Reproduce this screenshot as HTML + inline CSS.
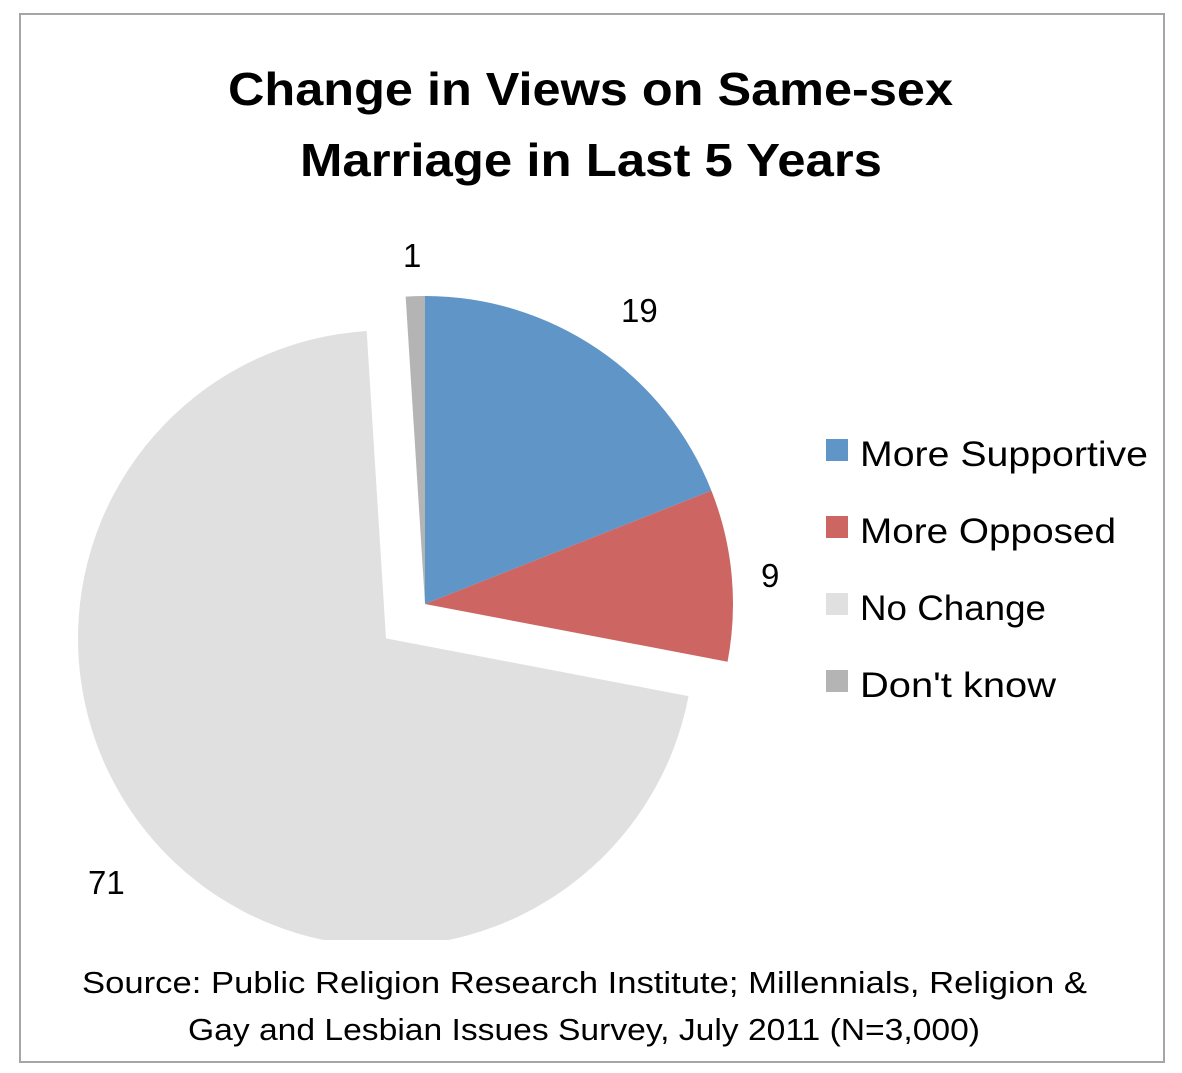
<!DOCTYPE html>
<html><head><meta charset="utf-8"><style>
body{margin:0;background:#fff;}
svg{display:block;font-family:"Liberation Sans",sans-serif;}
</style></head><body>
<svg id="chart" width="1182" height="1073" viewBox="0 0 1182 1073">
<rect x="20" y="14" width="1144" height="1048" fill="#fff" stroke="#a6a6a6" stroke-width="2"/>
<text x="228" y="105" textLength="725" lengthAdjust="spacingAndGlyphs" font-size="46" font-weight="bold">Change in Views on Same-sex</text>
<text x="300" y="176" textLength="582" lengthAdjust="spacingAndGlyphs" font-size="46" font-weight="bold">Marriage in Last 5 Years</text>
<defs><clipPath id="plotclip"><rect x="0" y="0" width="1182" height="940"/></clipPath></defs>
<g id="slices" clip-path="url(#plotclip)"></g>
<g id="labels"></g>
<g id="legend"></g>
<text x="82" y="993" textLength="1005" lengthAdjust="spacingAndGlyphs" font-size="31">Source: Public Religion Research Institute; Millennials, Religion &amp;</text>
<text x="188" y="1040" textLength="792" lengthAdjust="spacingAndGlyphs" font-size="31">Gay and Lesbian Issues Survey, July 2011 (N=3,000)</text>
</svg>
<script>
const categories = ["More Supportive", "More Opposed", "No Change", "Don't know"];
const values = [19, 9, 71, 1];
const colors = ["#6095c8", "#cd6562", "#e0e0e0", "#b4b4b4"];
const explode = [0, 0, 52, 0];
const labelPos = [[621,322],[761,587],[88,894],[403,267]];
const legendWidths = [288, 256, 186, 196];

const NS = "http://www.w3.org/2000/svg";
const cx = 425, cy = 604, r = 308;
const total = values.reduce((a,b)=>a+b,0);
const gS = document.getElementById('slices');
const gL = document.getElementById('labels');
const gLeg = document.getElementById('legend');
let acc = 0;
values.forEach((v,i)=>{
  const a0 = acc/total*2*Math.PI, a1 = (acc+v)/total*2*Math.PI;
  const am = (a0+a1)/2;
  acc += v;
  const ox = cx + explode[i]*Math.sin(am), oy = cy - explode[i]*Math.cos(am);
  const x0 = ox + r*Math.sin(a0), y0 = oy - r*Math.cos(a0);
  const x1 = ox + r*Math.sin(a1), y1 = oy - r*Math.cos(a1);
  const large = (a1-a0) > Math.PI ? 1 : 0;
  const p = document.createElementNS(NS,'path');
  p.setAttribute('d', `M${ox},${oy} L${x0},${y0} A${r},${r} 0 ${large} 1 ${x1},${y1} Z`);
  p.setAttribute('fill', colors[i]);
  
  
  gS.appendChild(p);

  const t = document.createElementNS(NS,'text');
  t.setAttribute('x', labelPos[i][0]);
  t.setAttribute('y', labelPos[i][1]);
  t.setAttribute('font-size', '33');
  t.textContent = String(v);
  
  
  gL.appendChild(t);

  const sq = document.createElementNS(NS,'rect');
  sq.setAttribute('x', 826);
  sq.setAttribute('y', 439 + i*77);
  sq.setAttribute('width', 22);
  sq.setAttribute('height', 22);
  sq.setAttribute('fill', colors[i]);
  
  
  gLeg.appendChild(sq);
  const lt = document.createElementNS(NS,'text');
  lt.setAttribute('x', 860);
  lt.setAttribute('y', 466 + i*77);
  lt.setAttribute('font-size', '35');
  lt.setAttribute('textLength', legendWidths[i]);
  lt.setAttribute('lengthAdjust', 'spacingAndGlyphs');
  lt.textContent = categories[i];
  
  
  gLeg.appendChild(lt);
});
</script>
</body></html>
